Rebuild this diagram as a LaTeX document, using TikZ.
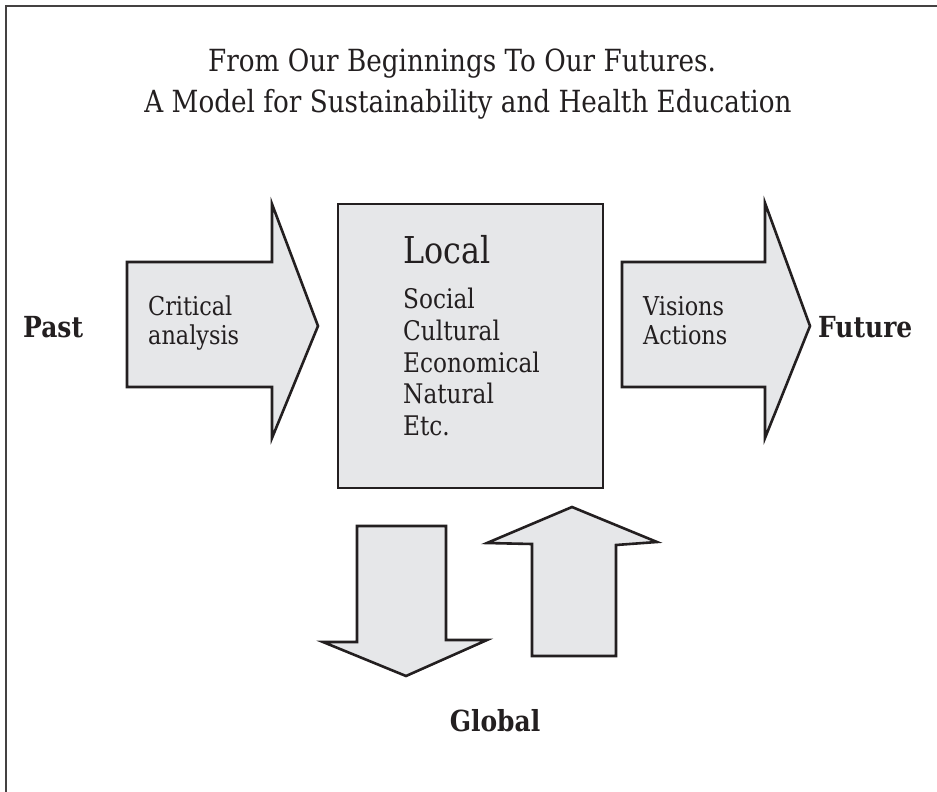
\documentclass[tikz,border=0pt]{standalone}
\usepackage{fontspec}
\setmainfont[FakeStretch=0.86]{DejaVu Serif}
\definecolor{ink}{HTML}{231F20}
\definecolor{shade}{HTML}{E6E7E9}
\begin{document}
\begin{tikzpicture}[x=1pt,y=-1pt,
  shapebox/.style={draw=ink,fill=shade,line width=2.6pt,line join=miter},
  lbl/.style={inner sep=0pt,text=ink,anchor=base west},
  ttl/.style={inner sep=0pt,text=ink,anchor=base,font=\fontsize{30.5}{34}\selectfont},
  side/.style={inner sep=0pt,text=ink,anchor=base west,font=\bfseries\fontsize{29}{33}\selectfont},
  arrtxt/.style={lbl,font=\fontsize{26}{30}\selectfont},
  item/.style={lbl,font=\fontsize{27}{31}\selectfont}]
\useasboundingbox (0,0) rectangle (937,792);
% partial frame
\draw[line width=2pt,color=ink!85] (6,792) -- (6,6) -- (937,6);
% left arrow
\draw[shapebox] (127,262) -- (272,262) -- (272,204) -- (318,326) -- (272,438) -- (272,387) -- (127,387) -- cycle;
% central box
\draw[shapebox] (338,204) rectangle (603,488);
% right arrow
\draw[shapebox] (622,262) -- (765,262) -- (765,203) -- (810,326) -- (765,438) -- (765,387) -- (622,387) -- cycle;
% down arrow
\draw[shapebox] (357,526) -- (446,526) -- (446,640) -- (487,640) -- (406,676) -- (323,642) -- (357,642) -- cycle;
% up arrow
\draw[shapebox] (572,507) -- (657,542) -- (616,545) -- (616,656) -- (532,656) -- (532,544) -- (487,543) -- cycle;
% title
\node[ttl] (t1) at (462,72) {From Our Beginnings To Our Futures.};
\node[ttl] (t2) at (468,112) {A Model for Sustainability and Health Education};
% side labels
\node[side] (past) at (23,337) {Past};
\node[side] (future) at (818,337) {Future};
\node[side,anchor=base] (global) at (495,731) {Global};
% arrow texts
\node[arrtxt] (crit1) at (148,315) {Critical};
\node[arrtxt] (crit2) at (148,344) {analysis};
\node[arrtxt] (vis1) at (643,315) {Visions};
\node[arrtxt] (vis2) at (643,344) {Actions};
% local box
\node[lbl,font=\fontsize{37}{42}\selectfont] (local) at (403,263) {Local};
\node[item] (i1) at (403,308) {Social};
\node[item] (i2) at (403,340) {Cultural};
\node[item] (i3) at (403,372) {Economical};
\node[item] (i4) at (403,403) {Natural};
\node[item] (i5) at (403,435) {Etc.};
\end{tikzpicture}
\end{document}
